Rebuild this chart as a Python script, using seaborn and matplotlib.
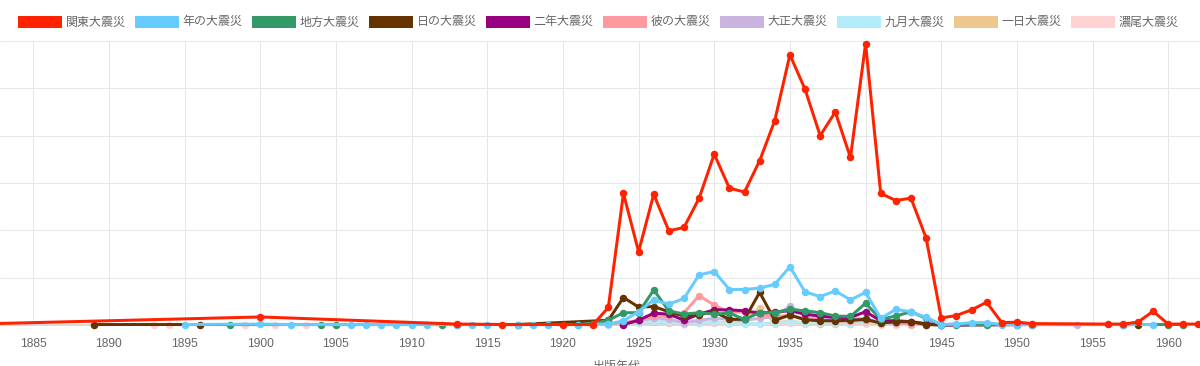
import matplotlib
matplotlib.use("Agg")
import matplotlib.pyplot as plt
from matplotlib.patches import Patch
import seaborn as sns
import pandas as pd

# ---------------- data ----------------
series_names = ["関東大震災", "年の大震災", "地方大震災", "日の大震災", "二年大震災",
                "彼の大震災", "大正大震災", "九月大震災", "一日大震災", "濃尾大震災"]
series_colors = ["#ff2200", "#66ccff", "#339966", "#663300", "#990080",
                 "#ff99a0", "#c8b4df", "#b3ebfa", "#eec690", "#ffd3d3"]

kanto_years = [1880, 1900, 1913, 1916, 1920, 1922, 1923, 1924, 1925, 1926, 1927, 1928, 1929,
               1930, 1931, 1932, 1933, 1934, 1935, 1936, 1937, 1938, 1939, 1940, 1941, 1942,
               1943, 1944, 1945, 1946, 1947, 1948, 1949, 1950, 1951, 1956, 1957, 1958, 1959,
               1960, 1961, 1962]
kanto_values = [1, 17, 2, 1, 1, 1, 37, 278, 155, 276, 199, 206, 268,
                361, 289, 281, 347, 432, 571, 498, 400, 450, 354, 594, 278, 263,
                268, 184, 15, 20, 32, 48, 5, 6, 3, 2, 2, 6, 29,
                2, 2, 2]

nen_years = [1895, 1900, 1902, 1906, 1907, 1908, 1909, 1910, 1911, 1913, 1914, 1915, 1917,
             1918, 1919, 1921, 1923, 1924, 1925, 1926, 1927, 1928, 1929, 1930, 1931, 1932,
             1933, 1934, 1935, 1936, 1937, 1938, 1939, 1940, 1941, 1942, 1943, 1944, 1945,
             1946, 1947, 1948, 1949, 1950, 1951, 1957, 1959]
nen_values = [1, 2, 1, 1, 1, 1, 1, 1, 1, 1, 1, 1, 1,
              1, 1, 1, 2, 9, 28, 53, 44, 56, 106, 113, 75, 75,
              78, 86, 123, 70, 60, 72, 53, 69, 14, 33, 28, 16, 1,
              2, 5, 5, 1, 1, 1, 1, 1]

chiho_years = [1898, 1904, 1905, 1912, 1913, 1921, 1922, 1923, 1924, 1925, 1926, 1927, 1928,
               1929, 1930, 1931, 1932, 1933, 1934, 1935, 1936, 1937, 1938, 1939, 1940, 1941,
               1942, 1943, 1944, 1945, 1946, 1948, 1950, 1960, 1961]
chiho_values = [1, 1, 1, 1, 1, 1, 3, 10, 26, 26, 74, 30, 23,
                26, 23, 25, 12, 26, 26, 33, 30, 26, 19, 18, 46, 12,
                19, 28, 14, 1, 1, 1, 1, 1, 1]

hi_years = [1889, 1896, 1917, 1923, 1924, 1925, 1926, 1927, 1928, 1929, 1930, 1931, 1932,
            1933, 1934, 1935, 1936, 1937, 1938, 1939, 1940, 1941, 1942, 1943, 1944, 1945,
            1951, 1957, 1958]
hi_values = [1, 1, 1, 10, 58, 38, 39, 28, 19, 22, 28, 12, 12,
             69, 10, 21, 11, 9, 9, 10, 12, 4, 7, 7, 1, 0,
             1, 1, 1]

ninen_years = [1924, 1925, 1926, 1927, 1928, 1929, 1930, 1931, 1932, 1933, 1934, 1935, 1936,
               1937, 1938, 1939, 1940, 1941, 1942, 1943, 1944, 1945, 1950]
ninen_values = [1, 10, 25, 23, 10, 23, 32, 32, 30, 25, 28, 30, 23,
                19, 16, 16, 28, 9, 9, 7, 3, 0, 1]

kano_years = [1923, 1924, 1925, 1926, 1927, 1928, 1929, 1930, 1931, 1932, 1933, 1934, 1935,
              1936, 1937, 1938, 1939, 1940, 1941, 1942, 1943, 1944]
kano_values = [2, 5, 10, 18, 18, 26, 62, 42, 26, 28, 22, 18, 20,
               14, 10, 8, 8, 10, 5, 5, 3, 2]

taisho_years = [1924, 1925, 1926, 1927, 1928, 1929, 1930, 1931, 1932, 1933, 1934, 1935, 1936,
                1937, 1938, 1939, 1940, 1941, 1942, 1943, 1944, 1945, 1954]
taisho_values = [3, 8, 15, 12, 5, 10, 14, 12, 10, 14, 18, 40, 20,
                 14, 16, 12, 14, 5, 4, 3, 2, 1, 1]

kugatsu_years = [1923, 1924, 1925, 1926, 1927, 1928, 1929, 1930, 1931, 1932, 1933, 1934, 1935,
                 1936, 1937, 1938, 1939, 1940, 1941, 1942, 1943, 1944, 1945]
kugatsu_values = [1, 3, 5, 8, 6, 3, 5, 6, 4, 3, 3, 5, 7,
                  5, 4, 4, 3, 8, 2, 2, 2, 1, 0]

tsuitachi_years = [1923, 1924, 1925, 1926, 1927, 1928, 1929, 1930, 1931, 1932, 1933, 1934, 1935,
                   1936, 1937, 1938, 1939, 1940, 1941, 1942, 1943, 1944, 1951]
tsuitachi_values = [1, 2, 4, 6, 5, 3, 4, 6, 5, 8, 36, 5, 8,
                    4, 3, 3, 3, 6, 2, 2, 1, 1, 3]

nobi_years = [1893, 1894, 1896, 1899, 1901, 1903, 1923, 1924, 1925, 1926, 1927, 1928, 1929,
              1930, 1931, 1932, 1933, 1934, 1935, 1936, 1937, 1938, 1939, 1940, 1941, 1942,
              1943, 1944]
nobi_values = [1, 1, 1, 1, 1, 1, 2, 4, 8, 12, 6, 3, 5,
               4, 3, 4, 3, 2, 4, 3, 2, 2, 2, 3, 1, 1,
               1, 1]

x_ticks = list(range(1885, 1961, 5))
x_title = "出版年代"

all_years = [kanto_years, nen_years, chiho_years, hi_years, ninen_years,
             kano_years, taisho_years, kugatsu_years, tsuitachi_years, nobi_years]
all_values = [kanto_values, nen_values, chiho_values, hi_values, ninen_values,
              kano_values, taisho_values, kugatsu_values, tsuitachi_values, nobi_values]

# ---------------- style ----------------
sns.set_style("white")
plt.rcParams["font.family"] = ["Liberation Sans", "Noto Sans CJK JP", "DejaVu Sans"]

W, H = 1200, 366
fig = plt.figure(figsize=(W / 100, H / 100), dpi=100)
ax = fig.add_axes([0, 41 / H, 1, 284 / H])

px = 0.72  # one pixel in points

for i in range(len(series_names) - 1, -1, -1):
    df = pd.DataFrame({"year": all_years[i], "value": all_values[i]})
    sns.lineplot(data=df, x="year", y="value", ax=ax, color=series_colors[i],
                 linewidth=3 * px, marker="o", markersize=7.5 * px,
                 markeredgewidth=0, errorbar=None, clip_on=False,
                 zorder=20 - i)

ax.set_xlim(1882.8, 1962.1)
ax.set_ylim(0, 600)
ax.set_xticks(x_ticks)
ax.set_xticklabels([str(t) for t in x_ticks])
ax.set_yticks(range(0, 601, 100))
ax.tick_params(axis="y", length=0, labelleft=False)
ax.tick_params(axis="x", length=10 * px, width=px, color="#e6e6e6",
               labelsize=12 * px, labelcolor="#666666", pad=2)
ax.grid(True, color="#e6e6e6", linewidth=px, zorder=0)
ax.set_axisbelow(True)
ax.set_xlabel("")
ax.set_ylabel("")
for s in ["left", "right", "top"]:
    ax.spines[s].set_visible(False)
ax.spines["bottom"].set_color("#cfcfcf")
ax.spines["bottom"].set_linewidth(1.5 * px)

handles = [Patch(facecolor=c, edgecolor=c, linewidth=px) for c in series_colors]
fpx = 12.0
fig.legend(handles, series_names, loc="center", ncol=10,
           bbox_to_anchor=(598 / W, 1 - 22 / H), frameon=False,
           prop={"family": ["Noto Sans CJK JP", "DejaVu Sans"], "size": fpx * px},
           labelcolor="#666666", handlelength=43 / fpx, handleheight=13 / fpx,
           handletextpad=5 / fpx, columnspacing=9 / fpx, borderpad=0,
           borderaxespad=0)

fig.text(617 / W, 1 - 360 / H, x_title, ha="center", va="top",
         fontsize=12 * px, color="#666666",
         family=["Noto Sans CJK JP", "DejaVu Sans"])

fig.savefig("out.png", dpi=100)
